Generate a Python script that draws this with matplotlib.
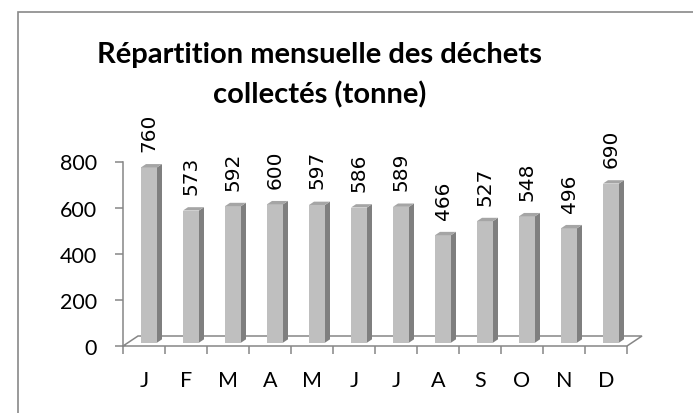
import matplotlib
matplotlib.use('Agg')
import matplotlib.pyplot as plt
from matplotlib.patches import Polygon, Rectangle

# data
months = ['J', 'F', 'M', 'A', 'M', 'J', 'J', 'A', 'S', 'O', 'N', 'D']
tonnes = [760, 573, 592, 600, 597, 586, 589, 466, 527, 548, 496, 690]
yticks = [0, 200, 400, 600, 800]
title1 = 'Répartition mensuelle des déchets'
title2 = 'collectés (tonne)'

W, H = 693, 414
fig = plt.figure(figsize=(W / 100, H / 100), dpi=100)

# plot area in pixels (front plane)
x0, x1 = 123, 627
y0, y1 = 347, 162.5
ax = fig.add_axes([x0 / W, 1 - y0 / H, (x1 - x0) / W, (y0 - y1) / H])
n = len(months)
ax.set_xlim(0, n)
ax.set_ylim(0, max(yticks))

px_x = (x1 - x0) / n
px_y = (y0 - y1) / max(yticks)
dx = 15 / px_x      # floor depth
dy = 10 / px_y
bw = 16 / px_x      # bar width

gray = '#868686'
front_c = '#BFBFBF'
side_c = '#7F7F7F'
top_c = '#A5A5A5'

# floor and vertical axis
ax.plot([0, n, n + dx, dx, 0], [0, 0, dy, dy, 0], color=gray, lw=1.1,
        clip_on=False, zorder=1, solid_joinstyle='miter')
ax.plot([0, 0], [0, max(yticks)], color=gray, lw=1.1, clip_on=False, zorder=1)

b = dy / 3
for i, v in enumerate(tonnes):
    xl = i + 0.5 - bw / 2 + dx / 3
    ax.add_patch(Rectangle((xl, b), bw, v, facecolor=front_c, edgecolor='none',
                           zorder=3, clip_on=False))
    side = [(xl + bw, b), (xl + bw + dx / 3, b + dy / 3),
            (xl + bw + dx / 3, v + b + dy / 3), (xl + bw, v + b)]
    ax.add_patch(Polygon(side, closed=True, facecolor=side_c, edgecolor='none',
                         zorder=3, clip_on=False))
    top = [(xl, v + b), (xl + bw, v + b), (xl + bw + dx / 3, v + b + dy / 3),
           (xl + dx / 3, v + b + dy / 3)]
    ax.add_patch(Polygon(top, closed=True, facecolor=top_c, edgecolor='none',
                         zorder=3, clip_on=False))
    ax.annotate(str(v), (xl + bw / 2, v + b + dy / 3), xytext=(0, 9.5),
                textcoords='offset points', rotation=90, ha='center',
                va='bottom', fontsize=14.5, family='DejaVu Sans', color='black')

for s in ax.spines.values():
    s.set_visible(False)

ax.set_yticks(yticks)
ax.set_yticklabels([str(t) for t in yticks], fontsize=15.5, family='Lato')
ax.tick_params(axis='y', length=5.8, width=1.1, color=gray, pad=13)

ax.set_xticks([i + 0.5 for i in range(n)])
ax.set_xticklabels(months, fontsize=15.5, family='Lato')
ax.set_xticks(range(n + 1), minor=True)
ax.tick_params(axis='x', which='major', length=0, pad=17)
ax.tick_params(axis='x', which='minor', length=5.8, width=1.1, color=gray)

# chart border
fig.add_artist(Rectangle((17.5 / W, -0.1), 1.0, 1 - 12.5 / H + 0.1,
                         transform=fig.transFigure, fill=False,
                         edgecolor='#898989', lw=1.2))

fig.text(319.5 / W, 1 - 63 / H, title1, ha='center', va='baseline',
         fontsize=21, fontweight='bold', family='Lato')
fig.text(319.5 / W, 1 - 103 / H, title2, ha='center', va='baseline',
         fontsize=21, fontweight='bold', family='Lato')

fig.savefig('out.png', dpi=100)
